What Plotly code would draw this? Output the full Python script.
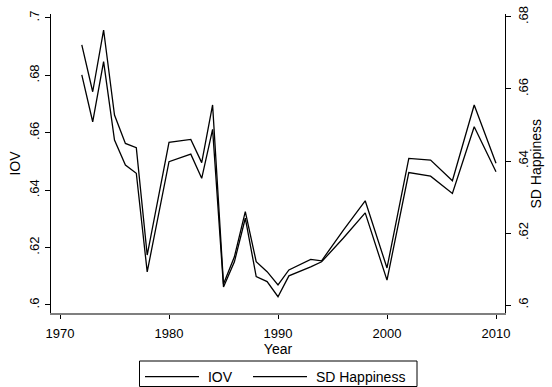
import plotly.graph_objects as go

# GSS survey years
years = [1972, 1973, 1974, 1975, 1976, 1977, 1978, 1980, 1982, 1983, 1984,
         1985, 1986, 1987, 1988, 1989, 1990, 1991, 1993, 1994, 1996, 1998,
         2000, 2002, 2004, 2006, 2008, 2010]

# Index of qualitative variation (left axis)
iov = [0.6906, 0.6743, 0.6958, 0.6662, 0.6563, 0.6548, 0.6174, 0.6567,
       0.6577, 0.6496, 0.6697, 0.6073, 0.6168, 0.6325, 0.6151, 0.6116,
       0.6070, 0.6122, 0.6159, 0.6154, 0.6261, 0.6363, 0.6129, 0.6511,
       0.6505, 0.6433, 0.6697, 0.6494]

# Standard deviation of happiness (right axis)
sd_happiness = [0.6639, 0.6509, 0.6676, 0.6458, 0.6389, 0.6366, 0.6092,
                0.6398, 0.6419, 0.6352, 0.6488, 0.6050, 0.6120, 0.6241,
                0.6079, 0.6065, 0.6023, 0.6081, 0.6106, 0.6120, 0.6186,
                0.6256, 0.6069, 0.6368, 0.6358, 0.6310, 0.6495, 0.6370]

x_ticks = [1970, 1980, 1990, 2000, 2010]
left_ticks = [0.60, 0.62, 0.64, 0.66, 0.68, 0.70]
left_labels = [".6", ".62", ".64", ".66", ".68", ".7"]
right_ticks = [0.60, 0.62, 0.64, 0.66, 0.68]
right_labels = [".6", ".62", ".64", ".66", ".68"]

FONT = "Liberation Sans, Arial, sans-serif"
W, H = 552, 387
M = dict(l=51, r=47, t=14, b=74)
PW = W - M["l"] - M["r"]
PH = H - M["t"] - M["b"]


def px_x(x):
    """Pixel column -> paper x."""
    return (x - M["l"]) / PW


def px_y(y):
    """Pixel row -> paper y."""
    return (H - M["b"] - y) / PH


fig = go.Figure()
fig.add_trace(go.Scatter(x=years, y=iov, mode="lines", name="\u00a0IOV",
                         legendwidth=39,
                         line=dict(color="black", width=1.3), yaxis="y"))
fig.add_trace(go.Scatter(x=years, y=sd_happiness, mode="lines",
                         name="\u00a0SD Happiness",
                         line=dict(color="black", width=1.3), yaxis="y2"))

# legend frame
fig.add_shape(type="rect", xref="paper", yref="paper",
              x0=px_x(139.5), x1=px_x(417), y0=px_y(386.5), y1=px_y(361),
              line=dict(color="black", width=1), fillcolor="rgba(0,0,0,0)")

# right axis title
fig.add_annotation(text="SD Happiness", xref="paper", yref="paper",
                   x=px_x(535), y=0.5, xanchor="center", yanchor="middle",
                   textangle=-90, showarrow=False, font=dict(size=14))

fig.update_layout(
    width=W, height=H,
    margin=dict(**M, autoexpand=False),
    paper_bgcolor="white", plot_bgcolor="white",
    font=dict(family=FONT, color="black", size=13),
    showlegend=True,
    legend=dict(orientation="h", x=px_x(140), xanchor="left", y=px_y(361),
                yanchor="top", borderwidth=0, font=dict(size=14),
                itemwidth=54, bgcolor="rgba(0,0,0,0)"),
    xaxis=dict(range=[1969.174, 2010.826], tickvals=x_ticks, automargin=False,
               showgrid=False, zeroline=False, showline=True, linecolor="#7f7f7f",
               linewidth=2, ticks="outside", ticklen=4, tickcolor="black",
               tickfont=dict(size=13), ticklabelstandoff=3,
               title=dict(text="Year", font=dict(size=14), standoff=0)),
    yaxis=dict(range=[0.59721, 0.70139], tickvals=left_ticks, ticktext=left_labels,
               tickangle=-90, showgrid=False, zeroline=False, showline=True,
               automargin=False,
               linecolor="black", linewidth=1.3, ticks="outside", ticklen=5,
               tickcolor="black", tickfont=dict(size=13), ticklabelstandoff=1,
               title=dict(text="IOV", font=dict(size=14), standoff=2)),
    yaxis2=dict(range=[0.59778, 0.68083], tickvals=right_ticks, ticktext=right_labels,
                overlaying="y", side="right", tickangle=-90, showgrid=False,
                automargin=False,
                zeroline=False, showline=True, linecolor="black", linewidth=1.3,
                ticks="outside", ticklen=5, tickcolor="black",
                tickfont=dict(size=13), ticklabelstandoff=1),
)

fig.write_html("out.html")
